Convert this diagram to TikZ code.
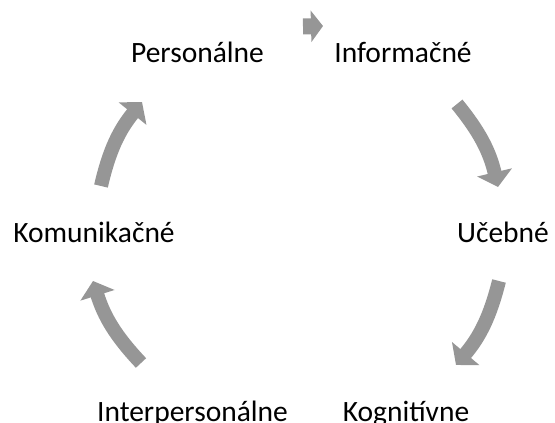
\documentclass[tikz,border=0pt]{standalone}
\usepackage{fontspec}
\setmainfont{Carlito}
\usetikzlibrary{arrows.meta}
\begin{document}
\begin{tikzpicture}[x=1pt,y=-1pt,
    lbl/.style={anchor=base, inner sep=0pt, font=\fontsize{29.5}{35}\selectfont},
    cyc/.style={draw=black!41, line width=14pt, -{Triangle[width=35pt,length=15pt]}, bend left=13}]
    \useasboundingbox (0,0) rectangle (555,423);
    \node [lbl] (per) at (197.5,63) {Personálne};
    \node [lbl] (inf) at (403,63) {Informačné};
    \node [lbl] (uce) at (503,242) {Učebné};
    \node [lbl] (kog) at (406,421) {Kognitívne};
    \node [lbl] (int) at (192.5,421) {Interpersonálne};
    \node [lbl] (kom) at (94,242) {Komunikačné};
    \coordinate (a1) at (303,26.5);  \coordinate (b1) at (323,26);
    \coordinate (a2) at (457,104);   \coordinate (b2) at (498,187);
    \coordinate (a3) at (499,281);   \coordinate (b3) at (456,365);
    \coordinate (a5) at (141,363);   \coordinate (b5) at (93,281);
    \coordinate (a6) at (101,186);   \coordinate (b6) at (142,102);
    \draw[draw=black!41, line width=16pt, -{Triangle[width=31pt,length=12pt]}] (a1) -- (b1);
    \draw[cyc] (a2) to (b2);
    \draw[cyc] (a3) to (b3);
    \draw[cyc] (a5) to (b5);
    \draw[cyc] (a6) to (b6);
\end{tikzpicture}
\end{document}
